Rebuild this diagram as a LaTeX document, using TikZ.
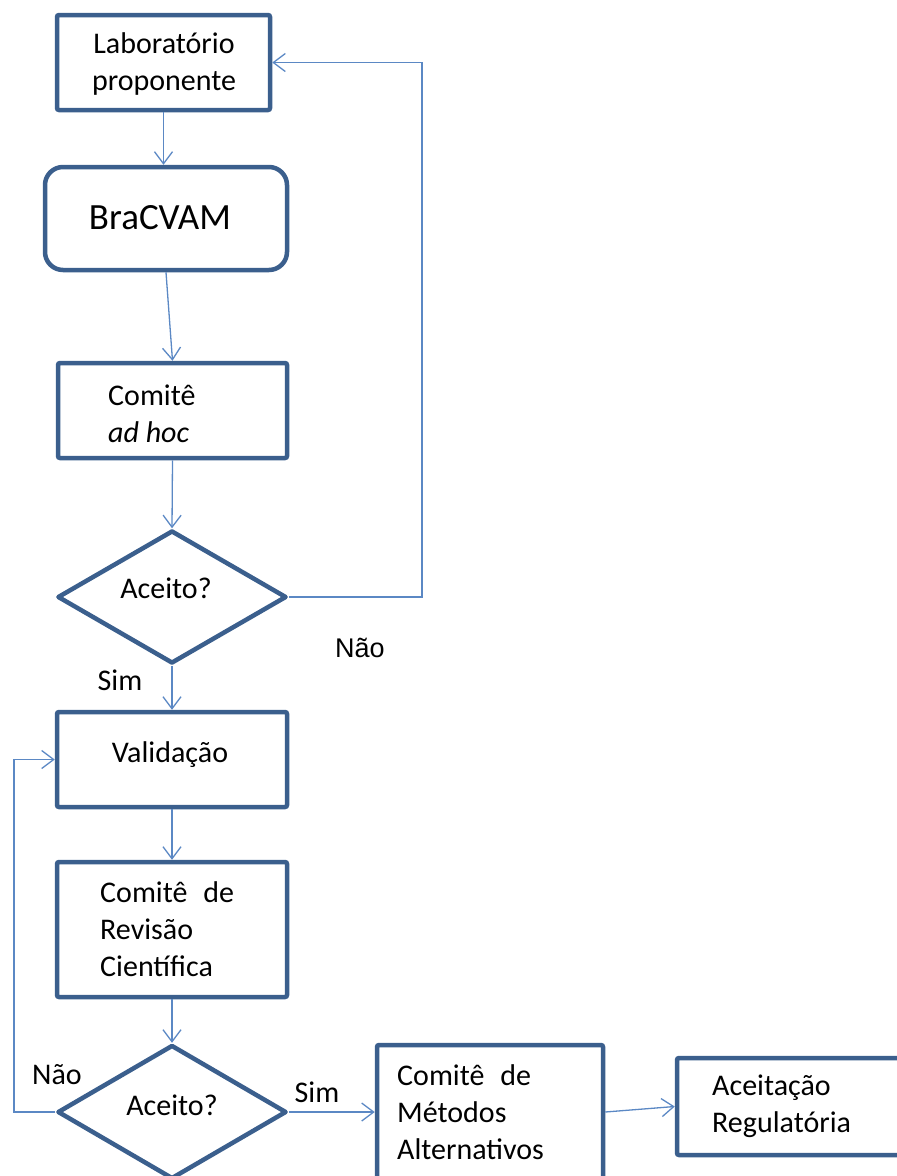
\documentclass[tikz,border=0pt]{standalone}
\usepackage{fontspec}
\setmainfont{Carlito}
\newfontfamily\arialfont{Liberation Sans}
\usetikzlibrary{shapes.geometric,arrows.meta}
\definecolor{boxblue}{HTML}{3B5F8D}
\definecolor{linkblue}{HTML}{5B88C4}
\begin{document}
\begin{tikzpicture}[x=1pt,y=-1pt,
  boxnode/.style={draw=boxblue, line width=4.5pt, rectangle, rounded corners=2pt, inner sep=0pt, fill=white},
  decision/.style={draw=boxblue, line width=4.5pt, diamond, line join=round, inner sep=0pt, minimum width=229pt, minimum height=133pt},
  link/.style={draw=linkblue, line width=1.3pt, -{Straight Barb[length=12pt,width=18pt]}},
  txt/.style={font=\fontsize{30}{37}\selectfont, inner sep=0pt, align=left},
]
\useasboundingbox (0,0) rectangle (897,1176);
\clip (0,0) rectangle (897,1176);

% boxes
\node[boxnode, minimum width=213pt, minimum height=95pt] (lab) at (163.5,62.5) {};
\node[txt, align=center] (labt) at (164,64) {Laboratório\\proponente};

\node[boxnode, rounded corners=18pt, minimum width=242pt, minimum height=103pt] (bra) at (166,218.5) {};
\node[font=\fontsize{37}{44}\selectfont, inner sep=0pt] (brat) at (160,218) {BraCVAM};

\node[boxnode, minimum width=229pt, minimum height=95pt] (adhoc) at (172.5,410.5) {};
\node[txt, anchor=west] (adhoct) at (108,413.5) {Comitê\\\textit{ad hoc}};

\node[decision] (d1) at (172,597) {};
\node[txt] (d1t) at (166,588) {Aceito?};

\node[boxnode, minimum width=230pt, minimum height=95pt] (valid) at (172,759.5) {};
\node[txt] (validt) at (170,755) {Validação};

\node[boxnode, minimum width=230pt, minimum height=135pt] (rev) at (172,929.5) {};
\node[txt, anchor=west] (revt) at (100,929.5) {Comitê\hspace{16pt}de\\Revisão\\Científica};

\node[decision, minimum height=134pt] (d2) at (172,1112) {};
\node[txt] (d2t) at (172,1105) {Aceito?};

\node[boxnode, minimum width=226pt, minimum height=134pt] (met) at (490,1112) {};
\node[txt, anchor=west] (mett) at (397,1112) {Comitê\hspace{16pt}de\\Métodos\\Alternativos};

\node[boxnode, minimum width=228pt, minimum height=97pt] (acc) at (791,1106.5) {};
\node[txt, anchor=west] (acct) at (712,1106.5) {Aceitação\\Regulatória};

% labels
\node[txt] (sim1) at (120,680) {Sim};
\node[font=\arialfont\fontsize{27}{32}\selectfont, inner sep=0pt] (nao1) at (360,648) {Não};
\node[txt] (nao2) at (57,1075) {Não};
\node[txt] (sim2) at (317,1092) {Sim};

% connectors
\coordinate (loop1) at (422,62.5);
\coordinate (loop2) at (14,759.5);
\draw[link] (lab.south) -- (lab.south |- bra.north);
\draw[link] (bra.south) -- (adhoc.north);
\draw[link] (adhoc.south) -- (d1.north);
\draw[link] (d1.south) -- (valid.north);
\draw[link] (valid.south) -- (rev.north);
\draw[link] (rev.south) -- (d2.north);
\draw[link] (d2.east) -- (met.west);
\draw[link] (met.east) -- (acc.west);
\draw[link] (d1.east) -| (loop1) -- (lab.east);
\draw[link] (d2.west) -| (loop2) -- (valid.west);
\end{tikzpicture}
\end{document}
